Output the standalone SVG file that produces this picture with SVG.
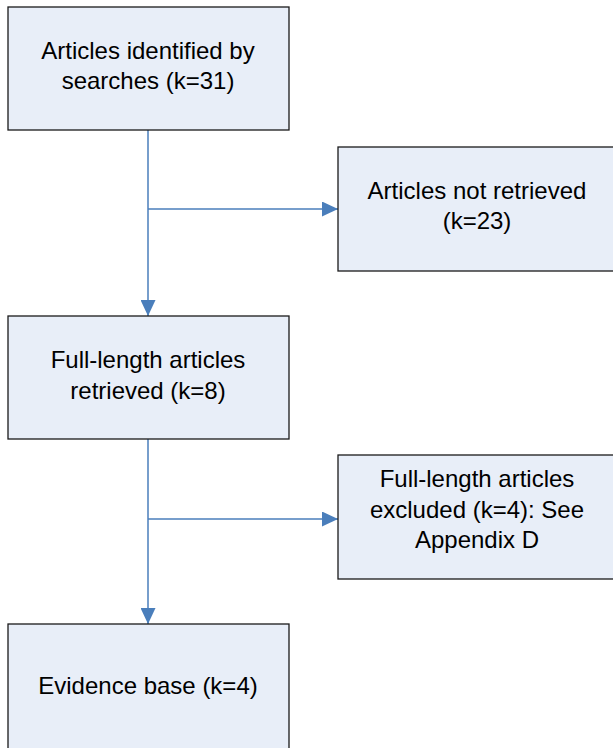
<svg xmlns="http://www.w3.org/2000/svg" width="613" height="748" viewBox="0 0 613 748">
  <style>
    .box { fill: #E8EEF8; stroke: #1a1a1a; stroke-width: 1.3; }
    .lbl { font-family: "Liberation Sans", Arial, sans-serif; font-size: 24px; fill: #000; text-anchor: middle; }
    .conn { stroke: #4A7EBB; stroke-width: 1.5; fill: none; }
  </style>
  <defs>
    <marker id="arrow" viewBox="0 0 16 15" refX="16" refY="7.5" markerWidth="16" markerHeight="15" markerUnits="userSpaceOnUse" orient="auto">
      <path d="M0,0 L16,7.5 L0,15 Z" fill="#4A7EBB"/>
    </marker>
  </defs>
  <rect width="613" height="748" fill="#ffffff"/>

  <g id="connectors">
    <line class="conn" x1="148" y1="130" x2="148" y2="316" marker-end="url(#arrow)"/>
    <line class="conn" x1="148" y1="209" x2="338" y2="209" marker-end="url(#arrow)"/>
    <line class="conn" x1="148" y1="439" x2="148" y2="624" marker-end="url(#arrow)"/>
    <line class="conn" x1="148" y1="519" x2="338" y2="519" marker-end="url(#arrow)"/>
  </g>

  <g id="identified">
    <rect class="box" x="8" y="7" width="281" height="123"/>
    <text class="lbl" x="148" y="59">Articles identified by</text>
    <text class="lbl" x="148" y="89">searches (k=31)</text>
  </g>

  <g id="not-retrieved">
    <rect class="box" x="338" y="147" width="280" height="124"/>
    <text class="lbl" x="477" y="199">Articles not retrieved</text>
    <text class="lbl" x="477" y="229">(k=23)</text>
  </g>

  <g id="retrieved">
    <rect class="box" x="8" y="316" width="281" height="123"/>
    <text class="lbl" x="148" y="368">Full-length articles</text>
    <text class="lbl" x="148" y="399">retrieved (k=8)</text>
  </g>

  <g id="excluded">
    <rect class="box" x="338" y="455" width="280" height="124"/>
    <text class="lbl" x="477" y="487">Full-length articles</text>
    <text class="lbl" x="477" y="518">excluded (k=4): See</text>
    <text class="lbl" x="477" y="548">Appendix D</text>
  </g>

  <g id="evidence">
    <rect class="box" x="8" y="624" width="281" height="140"/>
    <text class="lbl" x="148" y="694">Evidence base (k=4)</text>
  </g>
</svg>
